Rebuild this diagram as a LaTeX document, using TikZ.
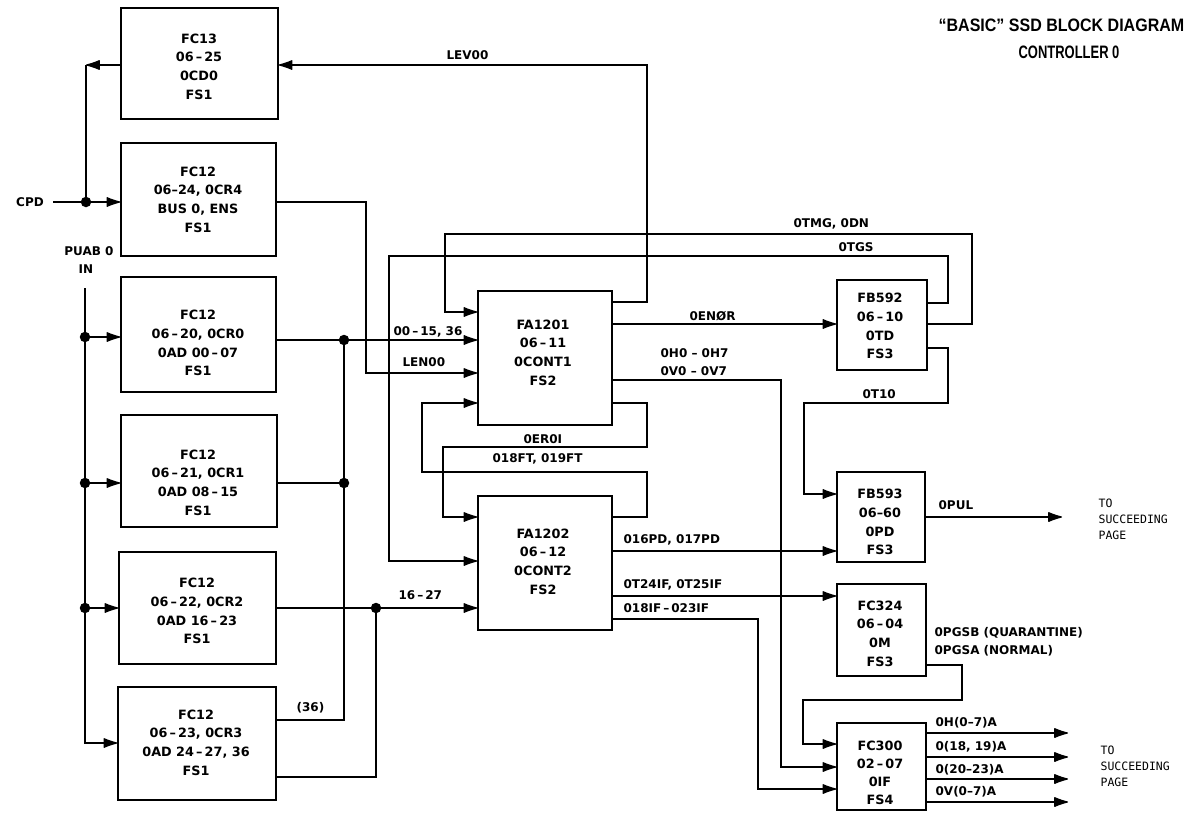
\documentclass[tikz,border=0pt]{standalone}
\usepackage{graphicx}
\usepackage{fontspec}
\setmainfont{DejaVu Sans}
\newfontfamily\monof{DejaVu Sans Mono}
\newfontfamily\titlef{Liberation Sans}
\usetikzlibrary{arrows.meta,calc}
\begin{document}
\begin{tikzpicture}[x=1pt,y=-1pt,
  line width=1.2pt,
  box/.style={draw, line width=1.4pt, inner sep=0pt, anchor=center},
  btxt/.style={font=\fontsize{12.8}{18.7}\selectfont\bfseries, align=center, inner sep=0pt},
  sig/.style={font=\fontsize{12}{18}\selectfont\bfseries, inner sep=0pt, anchor=west},
  arr/.style={-{Latex[length=16pt,width=10.5pt,round]}},
  dot/.style={circle, fill, inner sep=0pt, minimum size=10.5pt},
  mono/.style={font=\monof\fontsize{11.5}{16}\selectfont, align=left, inner sep=0pt, anchor=west}
]
\useasboundingbox (0,0) rectangle (1191,812);

% ---------- boxes ----------
\node[box, minimum width=157pt, minimum height=111pt] (FC13) at (199.5,63.5) {};
\node[box, minimum width=155pt, minimum height=113pt] (FC12a) at (198.5,199.5) {};
\node[box, minimum width=155pt, minimum height=115pt] (FC12b) at (198.5,334.5) {};
\node[box, minimum width=156pt, minimum height=112pt] (FC12c) at (199,471) {};
\node[box, minimum width=157pt, minimum height=112pt] (FC12d) at (197.5,608) {};
\node[box, minimum width=158pt, minimum height=113pt] (FC12e) at (197,743.5) {};
\node[box, minimum width=134pt, minimum height=134pt] (FA1201) at (545,358) {};
\node[box, minimum width=134pt, minimum height=134pt] (FA1202) at (545,563) {};
\node[box, minimum width=90pt, minimum height=90pt] (FB592) at (882,325) {};
\node[box, minimum width=88pt, minimum height=90pt] (FB593) at (881,517) {};
\node[box, minimum width=89pt, minimum height=92pt] (FC324) at (881.5,630) {};
\node[box, minimum width=89pt, minimum height=87pt] (FC300) at (881.5,766.5) {};

% ---------- box texts ----------
\node[btxt] (tFC13) at (199,66.5) {FC13\\06\,--\,25\\0CD0\\FS1};
\node[btxt] (tFC12a) at (198,199.5) {FC12\\06--24, 0CR4\\BUS 0, ENS\\FS1};
\node[btxt] (tFC12b) at (198,343) {FC12\\06\,--\,20, 0CR0\\0AD 00\,--\,07\\FS1};
\node[btxt] (tFC12c) at (198,482.5) {FC12\\06\,--\,21, 0CR1\\0AD 08\,--\,15\\FS1};
\node[btxt] (tFC12d) at (197,611) {FC12\\06\,--\,22, 0CR2\\0AD 16\,--\,23\\FS1};
\node[btxt] (tFC12e) at (196,742.5) {FC12\\06\,--\,23, 0CR3\\0AD 24\,--\,27, 36\\FS1};
\node[btxt] (tFA1201) at (543,352.5) {FA1201\\06\,--\,11\\0CONT1\\FS2};
\node[btxt] (tFA1202) at (543,561.5) {FA1202\\06\,--\,12\\0CONT2\\FS2};
\node[btxt] (tFB592) at (880,326) {FB592\\06\,--\,10\\0TD\\FS3};
\node[btxt] (tFB593) at (880,522) {FB593\\06--60\\0PD\\FS3};
\node[btxt] (tFC324) at (880,633.5) {FC324\\06\,--\,04\\0M\\FS3};
\node[btxt, font=\fontsize{12.8}{17.8}\selectfont\bfseries] (tFC300) at (880,773) {FC300\\02\,--\,07\\0IF\\FS4};

% ---------- left side inputs ----------
\node[sig, anchor=center] (CPD) at (30,202) {CPD};
\coordinate (cpd0) at (53,202);
\node[dot] (dCPD) at (86,202) {};
\draw[arr] (cpd0) -- (FC12a.west |- cpd0);
\coordinate (c13) at (86,65);
\draw[arr] (FC13.west |- c13) -- (c13);
\draw (c13) -- (dCPD.center);

\node[sig, anchor=center] (PUAB) at (89,251) {PUAB 0};
\node[sig, anchor=center] (IN) at (86,269) {IN};
\coordinate (pu0) at (85,288);
\coordinate (pu5) at (85,743);
\node[dot] (dP1) at (85,337) {};
\node[dot] (dP2) at (85,483) {};
\node[dot] (dP3) at (85,608) {};
\draw[arr] (pu0) -- (pu5) -- (FC12e.west |- pu5);
\draw[arr] (dP1.center) -- (FC12b.west |- dP1);
\draw[arr] (dP2.center) -- (FC12c.west |- dP2);
\draw[arr] (dP3.center) -- (FC12d.west |- dP3);

% ---------- FC12 outputs ----------
\node[dot] (dA1) at (344,340) {};
\node[dot] (dA2) at (344,483) {};
\coordinate (a36) at (344,720);
\draw[arr] (FC12b.east |- dA1) -- (FA1201.west |- dA1);
\draw (FC12c.east |- dA2) -- (dA2.center);
\draw (dA1.center) -- (a36) -- (FC12e.east |- a36);
\node[sig] (L36) at (296,708) {(36)};
\node[sig] (L0015) at (393,332) {00\,--\,15, 36};

\node[dot] (dB1) at (376,608) {};
\coordinate (b2) at (376,777);
\draw[arr] (FC12d.east |- dB1) -- (FA1202.west |- dB1);
\draw (FC12e.east |- b2) -- (b2) -- (dB1.center);
\node[sig] (L1627) at (398,595) {16\,--\,27};

\draw[arr] (FC12a.east |- 0,202) -- (366,202) -- (366,373) -- (FA1201.west |- 0,373);
\node[sig] (LEN) at (402,362) {LEN00};

% ---------- LEV00 ----------
\draw[arr] (FA1201.east |- 0,302) -- (647,302) -- (647,65) -- (FC13.east |- 0,65);
\node[sig] (LEV) at (446,55) {LEV00};

% ---------- feedback from FB592 ----------
\draw[arr] (FB592.east |- 0,324) -- (972,324) -- (972,234) -- (445,234) -- (445,312) -- (FA1201.west |- 0,312);
\node[sig] (LTMG) at (793,224) {0TMG, 0DN};
\draw[arr] (FB592.east |- 0,303) -- (948,303) -- (948,256) -- (389,256) -- (389,561) -- (FA1202.west |- 0,561);
\node[sig] (LTGS) at (838,247) {0TGS};

% ---------- FA1201 outputs ----------
\draw[arr] (FA1201.east |- 0,324) -- (FB592.west |- 0,324);
\node[sig] (LENOR) at (689,316) {0ENØR};
\draw[arr] (FA1201.east |- 0,380) -- (781,380) -- (781,767) -- (FC300.west |- 0,767);
\node[sig] (LH) at (660,353) {0H0 -- 0H7};
\node[sig] (LV) at (660,371) {0V0 -- 0V7};
\draw[arr] (FA1201.east |- 0,403) -- (647,403) -- (647,447) -- (443,447) -- (443,517) -- (FA1202.west |- 0,517);
\node[sig] (LER) at (523,439) {0ER0I};
\draw[arr] (FA1202.east |- 0,517) -- (647,517) -- (647,472) -- (422,472) -- (422,403) -- (FA1201.west |- 0,403);
\node[sig] (LFT) at (492,459) {018FT, 019FT};

% ---------- FA1202 outputs ----------
\draw[arr] (FA1202.east |- 0,551) -- (FB593.west |- 0,551);
\node[sig] (LPD) at (623,540) {016PD, 017PD};
\draw[arr] (FA1202.east |- 0,596) -- (FC324.west |- 0,596);
\node[sig] (LT24) at (623,585) {0T24IF, 0T25IF};
\draw[arr] (FA1202.east |- 0,619) -- (758,619) -- (758,789) -- (FC300.west |- 0,789);
\node[sig] (L018IF) at (623,608) {018IF\,--\,023IF};

% ---------- right column ----------
\draw[arr] (FB592.east |- 0,348) -- (948,348) -- (948,403) -- (804,403) -- (804,494) -- (FB593.west |- 0,494);
\node[sig] (LT10) at (862,394) {0T10};
\coordinate (pul) at (1062,517);
\draw[arr] (FB593.east |- pul) -- (pul);
\node[sig] (LPUL) at (938,505) {0PUL};
\node[mono] (TO1) at (1098,519) {TO\\SUCCEEDING\\PAGE};

\draw[arr] (FC324.east |- 0,665) -- (962,665) -- (962,700) -- (803,700) -- (803,744) -- (FC300.west |- 0,744);
\node[sig] (LPGSB) at (934,633) {0PGSB (QUARANTINE)};
\node[sig] (LPGSA) at (934,651) {0PGSA (NORMAL)};

\coordinate (o1) at (1068,733);
\coordinate (o2) at (1068,757);
\coordinate (o3) at (1068,779);
\coordinate (o4) at (1068,802);
\draw[arr] (FC300.east |- o1) -- (o1);
\draw[arr] (FC300.east |- o2) -- (o2);
\draw[arr] (FC300.east |- o3) -- (o3);
\draw[arr] (FC300.east |- o4) -- (o4);
\node[sig] (LO1) at (935,723) {0H(0--7)A};
\node[sig] (LO2) at (935,747) {0(18, 19)A};
\node[sig] (LO3) at (935,770) {0(20--23)A};
\node[sig] (LO4) at (935,792) {0V(0--7)A};
\node[mono] (TO2) at (1100,766) {TO\\SUCCEEDING\\PAGE};

% ---------- title ----------
\node[anchor=west, inner sep=0pt, font=\titlef\bfseries\fontsize{18}{20}\selectfont] (T1) at (938,25) {\scalebox{0.89}[1]{“BASIC” SSD BLOCK DIAGRAM}};
\node[anchor=center, inner sep=0pt, font=\titlef\bfseries\fontsize{18}{20}\selectfont] (T2) at (1069,52) {\scalebox{0.72}[1]{CONTROLLER 0}};
\end{tikzpicture}
\end{document}
